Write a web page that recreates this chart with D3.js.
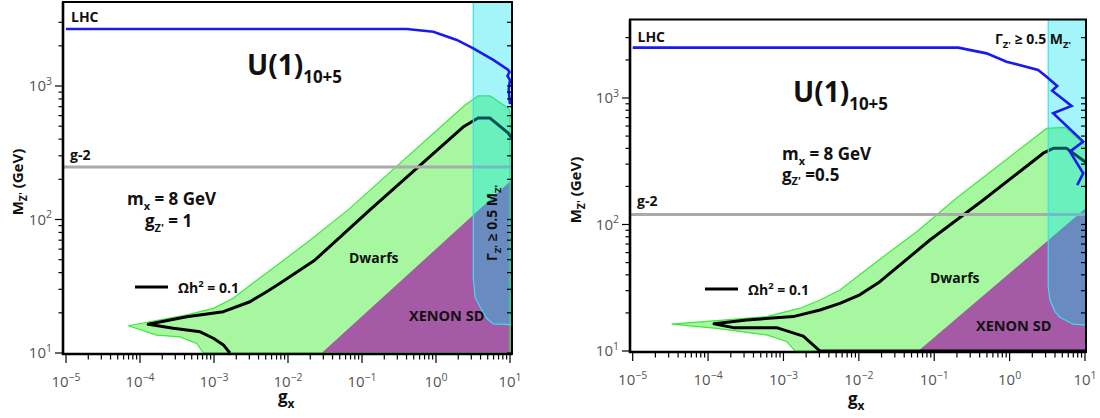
<!DOCTYPE html>
<html><head><meta charset="utf-8">
<script src="https://cdn.jsdelivr.net/npm/d3@7"></script>
<style>body{margin:0;background:#fff}svg{display:block}</style>
</head><body>
<svg id="c" width="1100" height="418"></svg>
<script>
// ---------------- DATA ----------------
// x: g_x, y: M_Z' (GeV)
const xMajorExps = [-5, -4, -3, -2, -1, 0, 1];
const yMajorExps = [1, 2, 3];

// Left panel: g_Z' = 1
const L_lhc = [[1e-5,2670],[0.402,2670],[0.92,2552],[1.91,2213],[3.19,1916],[5.94,1567],[9.48,1318],[9.84,1273],[9.25,1188],[10,1109],[9.6,933],[10,733]];
const L_g2 = 247;
const L_dwarfs = [[6.95e-5,16.0],[4.3e-4,19.3],[9.8e-4,21.6],[1.82e-3,25.7],[3.37e-3,33.4],[7.8e-3,47.2],[0.0198,70],[0.0647,118],[2.47,721],[3.7,842],[5.37,842],[9.4,684],[10,650],[10,10],[7.2e-4,10],[5.84e-4,11.8],[3.47e-4,13.2],[1.68e-4,13.6]];
const L_relic = [[1.64e-3,10],[1.34e-3,11.5],[9.8e-4,12.9],[6.5e-4,14.4],[2.82e-4,15.3],[1.29e-4,16.4],[4.28e-4,18.7],[1.34e-3,20.4],[3.06e-3,24.2],[5.15e-3,28.8],[7.8e-3,33.3],[0.0232,49.8],[0.128,118],[2.32,493],[3.7,575],[5.37,575],[9.4,445],[10.5,410]];
const L_xenon = [[0.0285,10],[10.7,199],[10.7,9.5],[0.0285,9.5]];
const L_width = [[3.19,5000],[3.19,36.5],[3.37,26.2],[3.93,22.2],[4.84,18.2],[5.94,16.5],[10,16.3],[10.7,16.3],[10.7,5000]];

// Right panel: g_Z' = 0.5
const R_lhc = [[1e-5,2500],[0.208,2500],[0.495,2254],[0.91,1937],[2.39,1663],[3.09,1472],[4.28,1245],[3.67,1143],[6.64,865],[3.78,757],[9.46,452],[6.31,377],[9.46,254],[7.88,205]];
const R_g2 = 120;
const R_dwarfs = [[3.29e-5,16.3],[1.30e-4,17.4],[5.98e-4,18.7],[1.66e-3,21.8],[3.05e-3,25.3],[5.61e-3,30.3],[0.0172,50.8],[0.0585,87.7],[0.198,162],[3.10,575],[5.41,586],[10.3,420],[10.3,10],[1.42e-3,10],[1.10e-3,11.9],[5.98e-4,13.4],[1.30e-4,15.1]];
const R_relic = [[10.5,10],[3.05e-3,10],[1.83e-3,13.1],[8.1e-4,15.3],[2.16e-4,15.3],[1.20e-4,16.4],[3.25e-4,17.6],[1.35e-3,18.7],[3.05e-3,21.1],[5.61e-3,23.8],[0.0103,27.8],[0.019,35.3],[0.0877,75.4],[0.447,156],[2.79,366],[3.79,400],[5.70,400],[10,313],[10.5,305]];
const R_xenon = [[0.0614,10],[10.5,136],[10.5,9.5],[0.0614,9.5]];
const R_width = [[3.25,5000],[3.25,32.2],[3.43,25.3],[3.99,20.5],[4.64,18.5],[6.97,16.3],[9.46,16.1],[10.5,16],[10.5,5000]];

// ---------------- LAYOUT ----------------
const FONT = "'Open Sans','Noto Sans',sans-serif";
const C = {
  green: '#a6f7a0', greenStroke: '#3ee83e', purple: '#a55aa5',
  cyan: 'rgba(0,228,240,0.36)', cyanStroke: '#38e0f0',
  blue: '#1a1aee', gray: '#aaaaaa', tick: '#555'
};

const panels = [
  {
    id: 'L', frame: {x0: 63, x1: 512, y0: 2, y1: 354},
    xr: [66, 510], yr: [353, 86],
    lhc: L_lhc, g2: L_g2, dwarfs: L_dwarfs, relic: L_relic, xenon: L_xenon, width: L_width,
    tickLabelBase: 387,
    yTitle: {x: 23, y: 182}, xTitle: {x: 278, y: 403},
    lhcLab: [71, 22], g2Lab: [70, 159.5],
    u1: [247, 75], mx: [127, 205], gz: [145, 227], gzText: ' = 1',
    legend: {x1: 135, x2: 168, y: 287, tx: 178, ty: 293},
    dwarfsLab: [349, 263], xenonLab: [409, 320.5],
    gamma: {x: 497, y: 261, rot: true}
  },
  {
    id: 'R', frame: {x0: 630, x1: 1086, y0: 19.5, y1: 352},
    xr: [632.7, 1085], yr: [351, 98],
    lhc: R_lhc, g2: R_g2, dwarfs: R_dwarfs, relic: R_relic, xenon: R_xenon, width: R_width,
    tickLabelBase: 385,
    yTitle: {x: 581, y: 190}, xTitle: {x: 848, y: 405},
    lhcLab: [637.5, 41.5], g2Lab: [637, 206],
    u1: [793, 102], mx: [782, 160], gz: [782, 180.5], gzText: ' =0.5',
    legend: {x1: 705, x2: 738, y: 289, tx: 748, ty: 295},
    dwarfsLab: [930, 283], xenonLab: [976, 330.5],
    gamma: {x: 995, y: 44, rot: false}
  }
];

const svg = d3.select('#c');

function rich(sel, parts, base) {
  let shift = 0;
  parts.forEach(p => {
    const target = p.k === 'sub' ? 0.28 * base : p.k === 'sup' ? -0.42 * base : 0;
    const ts = sel.append('tspan').text(p.t).attr('dy', target - shift);
    if (p.k) ts.attr('font-size', p.fs || base * 0.68);
    shift = target;
  });
  return sel;
}

function label(g, x, y, size, parts, opts = {}) {
  const t = g.append('text').attr('x', x).attr('y', y)
    .attr('font-family', FONT).attr('font-size', size)
    .attr('font-weight', opts.weight || 'bold')
    .attr('fill', opts.fill || '#111')
    .attr('text-anchor', opts.anchor || 'start');
  if (opts.transform) t.attr('transform', opts.transform);
  return rich(t, parts, size);
}

panels.forEach(P => {
  const f = P.frame;
  const x = d3.scaleLog().domain([1e-5, 10]).range(P.xr);
  const y = d3.scaleLog().domain([10, 1000]).range(P.yr);
  const g = svg.append('g');

  const clipId = 'clip' + P.id;
  svg.append('clipPath').attr('id', clipId).append('rect')
    .attr('x', f.x0).attr('y', f.y0).attr('width', f.x1 - f.x0).attr('height', f.y1 - f.y0);
  const plot = g.append('g').attr('clip-path', `url(#${clipId})`);

  const line = d3.line().x(d => x(d[0])).y(d => y(d[1]));
  const poly = pts => line(pts) + 'Z';

  // Dwarfs band
  plot.append('path').attr('d', poly(P.dwarfs)).attr('fill', C.green).attr('stroke', 'none');
  // XENON SD
  plot.append('path').attr('d', poly(P.xenon)).attr('fill', C.purple);
  // Dwarfs outline
  plot.append('path').attr('d', poly(P.dwarfs)).attr('fill', 'none')
    .attr('stroke', C.greenStroke).attr('stroke-width', 1.2);
  // relic line
  plot.append('path').attr('d', line(P.relic)).attr('fill', 'none')
    .attr('stroke', '#000').attr('stroke-width', 3).attr('stroke-linejoin', 'round');
  // g-2
  const xd = x.invert(f.x0), xe = x.invert(f.x1);
  plot.append('path').attr('d', line([[xd, P.g2], [xe, P.g2]]))
    .attr('stroke', C.gray).attr('stroke-width', 3).attr('fill', 'none');
  // width region
  plot.append('path').attr('d', poly(P.width)).attr('fill', C.cyan)
    .attr('stroke', C.cyanStroke).attr('stroke-width', 1.2);
  // LHC
  plot.append('path').attr('d', line(P.lhc)).attr('fill', 'none')
    .attr('stroke', C.blue).attr('stroke-width', 2.6).attr('stroke-linejoin', 'miter');

  // frame
  g.append('rect').attr('x', f.x0).attr('y', f.y0).attr('width', f.x1 - f.x0).attr('height', f.y1 - f.y0)
    .attr('fill', 'none').attr('stroke', '#000').attr('stroke-width', 2);
  g.append('path').attr('d', `M${f.x0},${f.y0}V${f.y1}H${f.x1}`).attr('fill', 'none')
    .attr('stroke', '#000').attr('stroke-width', 2.6);

  // x ticks
  x.ticks().forEach(v => {
    const major = Math.abs(Math.log10(v) - Math.round(Math.log10(v))) < 1e-9;
    const px = x(v);
    g.append('line').attr('x1', px).attr('x2', px).attr('y1', f.y1).attr('y2', f.y1 + (major ? 9 : 5.5))
      .attr('stroke', '#000').attr('stroke-width', 1.2);
  });
  xMajorExps.forEach(e => {
    label(g, x(Math.pow(10, e)), P.tickLabelBase, 15,
      [{t: '10'}, {t: (e < 0 ? '\u2212' : '') + Math.abs(e), k: 'sup', fs: 10.5}],
      {weight: 'normal', fill: C.tick, anchor: 'middle'});
  });

  // y ticks
  const yFull = y.copy().domain([y.invert(f.y1), y.invert(f.y0)]);
  yFull.ticks().forEach(v => {
    const py = y(v);
    if (py < f.y0 + 6 || py > f.y1 + 1) return;
    const major = Math.abs(Math.log10(v) - Math.round(Math.log10(v))) < 1e-9;
    g.append('line').attr('x1', f.x0 - (major ? 8 : 4.5)).attr('x2', f.x0).attr('y1', py).attr('y2', py)
      .attr('stroke', '#000').attr('stroke-width', 1.2);
    g.append('line').attr('x1', f.x1 - 5).attr('x2', f.x1).attr('y1', py).attr('y2', py)
      .attr('stroke', '#000').attr('stroke-width', 1.2);
  });
  yMajorExps.forEach(e => {
    label(g, f.x0 - 11, y(Math.pow(10, e)) + 5, 15,
      [{t: '10'}, {t: String(e), k: 'sup', fs: 10.5}],
      {weight: 'normal', fill: C.tick, anchor: 'end'});
  });

  // axis titles
  label(g, P.yTitle.x, P.yTitle.y, 15, [{t: 'M'}, {t: "Z'", k: 'sub', fs: 10.5}, {t: ' (GeV)'}],
    {anchor: 'middle', transform: `rotate(-90 ${P.yTitle.x} ${P.yTitle.y})`});
  label(g, P.xTitle.x, P.xTitle.y, 17, [{t: 'g'}, {t: 'x', k: 'sub', fs: 12}]);

  // annotations
  label(g, P.lhcLab[0], P.lhcLab[1], 14, [{t: 'LHC'}]);
  label(g, P.g2Lab[0], P.g2Lab[1], 14, [{t: 'g-2'}]);
  label(g, P.u1[0], P.u1[1], 28, [{t: 'U(1)'}, {t: '10+5', k: 'sub', fs: 17}]);
  label(g, P.mx[0], P.mx[1], 17, [{t: 'm'}, {t: 'x', k: 'sub', fs: 11}, {t: ' = 8 GeV'}]);
  label(g, P.gz[0], P.gz[1], 17, [{t: 'g'}, {t: "Z'", k: 'sub', fs: 11}, {t: P.gzText}]);
  g.append('line').attr('x1', P.legend.x1).attr('x2', P.legend.x2).attr('y1', P.legend.y).attr('y2', P.legend.y)
    .attr('stroke', '#000').attr('stroke-width', 3);
  label(g, P.legend.tx, P.legend.ty, 14, [{t: '\u03A9h'}, {t: '2', k: 'sup', fs: 9.5}, {t: ' = 0.1'}]);
  label(g, P.dwarfsLab[0], P.dwarfsLab[1], 14, [{t: 'Dwarfs'}]);
  label(g, P.xenonLab[0], P.xenonLab[1], 14.5, [{t: 'XENON SD'}]);
  const gp = [{t: '\u0393'}, {t: "Z'", k: 'sub', fs: 9.5}, {t: ' \u2265 0.5 M'}, {t: "Z'", k: 'sub', fs: 9.5}];
  if (P.gamma.rot) {
    label(g, P.gamma.x, P.gamma.y, 14, gp, {transform: `rotate(-90 ${P.gamma.x} ${P.gamma.y})`});
  } else {
    label(g, P.gamma.x, P.gamma.y, 14, gp);
  }
});
</script>
</body></html>
